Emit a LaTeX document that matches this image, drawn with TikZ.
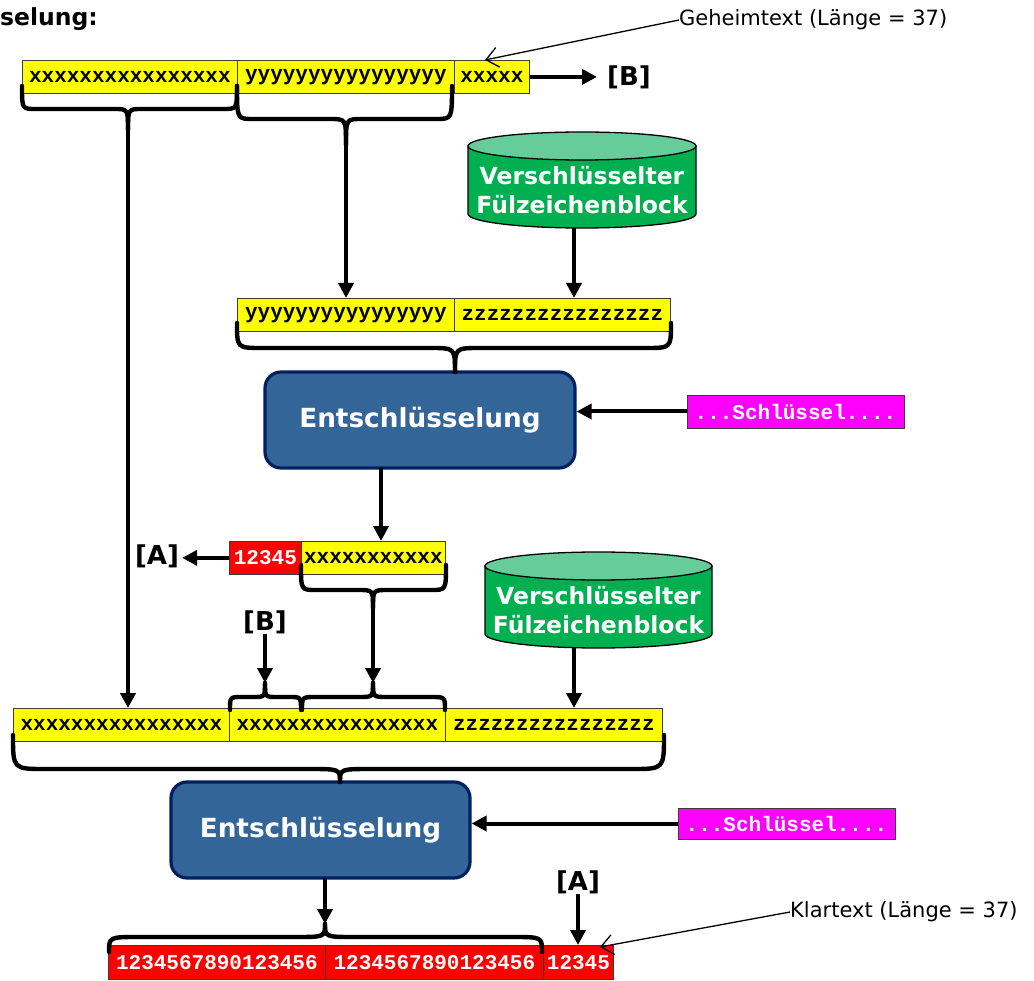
\documentclass[tikz,border=0pt]{standalone}
\usepackage{fontspec}
\setmainfont{DejaVu Sans}
\newfontfamily\monofnt{Liberation Mono}
\usetikzlibrary{arrows.meta}
\definecolor{entfill}{RGB}{52,101,153}
\definecolor{entline}{RGB}{0,32,96}
\definecolor{cylgreen}{RGB}{0,176,80}
\definecolor{cyllight}{RGB}{102,204,153}
\definecolor{cellline}{RGB}{60,60,60}
\definecolor{keymag}{RGB}{255,0,255}
\definecolor{cellyel}{RGB}{255,255,0}
\definecolor{cellred}{RGB}{255,0,0}
\newcommand{\bracepath}[7]{%
  \draw[brace] (#1,#4) .. controls (#1,#5) .. ({#1+#7},#5) -- ({#3-#7},#5) .. controls (#3,#5) .. (#3,#6);
  \draw[brace] (#2,#4) .. controls (#2,#5) .. ({#2-#7},#5) -- ({#3+#7},#5) .. controls (#3,#5) .. (#3,#6);}
\newcommand{\cylshape}[5]{%
  \filldraw[cylbody] ({#1-#2},#3) -- ({#1-#2},#4) .. controls ({#1-#2},{#4+0.5523*#5}) and ({#1-0.5523*#2},{#4+#5}) .. (#1,{#4+#5}) .. controls ({#1+0.5523*#2},{#4+#5}) and ({#1+#2},{#4+0.5523*#5}) .. ({#1+#2},#4) -- ({#1+#2},#3) -- cycle;
  \filldraw[cyltop] (#1,#3) ellipse [x radius=#2, y radius=#5];}
\begin{document}
\begin{tikzpicture}[x=1pt,y=-1pt,
  cell/.style={draw=cellline, line width=0.8, minimum height=33, inner sep=0, anchor=north west,
    font=\monofnt\bfseries\fontsize{21}{21}\selectfont},
  yel/.style={cell, fill=cellyel},
  redc/.style={cell, fill=cellred, text=white},
  keyc/.style={draw=cellline, line width=0.8, fill=keymag, text=white, minimum width=217, minimum height=33, inner sep=0,
    font=\monofnt\bfseries\fontsize{21}{21}\selectfont},
  ent/.style={draw=entline, line width=3.2, fill=entfill, rounded corners=16, text=white,
    font=\bfseries\fontsize{26.3}{26.3}\selectfont, inner sep=0},
  cylbody/.style={fill=cylgreen, draw=black, line width=1.3},
  cyltop/.style={fill=cyllight, draw=black, line width=1.3},
  cyltext/.style={text=white, align=center, font=\bfseries\fontsize{23.5}{29}\selectfont, inner sep=0},
  lbl/.style={font=\bfseries\fontsize{26}{26}\selectfont, inner sep=0},
  note/.style={font=\fontsize{21}{21}\selectfont, inner sep=0, anchor=west},
  brace/.style={line width=4.4, line cap=round, line join=round},
  conn/.style={line width=4, -{Triangle[length=15pt,width=15pt]}},
  thin/.style={line width=1.3, -{Straight Barb[length=12pt,width=20pt]}}
]
\useasboundingbox (0,0) rectangle (1034,981);

% title
\node[font=\bfseries\fontsize{23.5}{23.5}\selectfont, inner sep=0, anchor=base west] (title) at (0,26) {selung:};

% row 1
\node[yel, minimum width=215] (r1a) at (22,60) {xxxxxxxxxxxxxxxx};
\node[yel, minimum width=217] (r1b) at (237,60) {yyyyyyyyyyyyyyyy};
\node[yel, minimum width=75] (r1c) at (454,60) {xxxxx};
\node[lbl] (B1) at (629,77) {[B]};

% cylinder 1
\cylshape{582}{114}{146}{214}{14}
\node[cyltext] (cyl1) at (582,190) {Verschlüsselter\\Fülzeichenblock};
\coordinate (c1b) at (574,228);

% row 2
\node[yel, minimum width=217] (r2a) at (237,298) {yyyyyyyyyyyyyyyy};
\node[yel, minimum width=216] (r2b) at (454,298) {zzzzzzzzzzzzzzzz};

% decryption 1
\node[ent, minimum width=310, minimum height=96] (ent1) at (420,420) {Entschlüsselung};
\node[keyc] (key1) at (795.5,411.5) {...Schlüssel....};
\coordinate (e1b) at (381,468);

% row 3
\node[redc, minimum width=72] (r3a) at (229,541) {12345};
\node[yel, minimum width=144] (r3b) at (301,541) {xxxxxxxxxxx};
\node[lbl] (A1) at (157,556) {[A]};
\node[lbl] (B2) at (265,622) {[B]};

% cylinder 2
\cylshape{598.5}{113.5}{566}{634}{14}
\node[cyltext] (cyl2) at (598.5,610) {Verschlüsselter\\Fülzeichenblock};
\coordinate (c2b) at (574,648);

% row 4
\node[yel, minimum width=216] (r4a) at (13,708) {xxxxxxxxxxxxxxxx};
\node[yel, minimum width=216] (r4b) at (229,708) {xxxxxxxxxxxxxxxx};
\node[yel, minimum width=217] (r4c) at (445,708) {zzzzzzzzzzzzzzzz};

% decryption 2
\node[ent, minimum width=299, minimum height=96] (ent2) at (320.5,830) {Entschlüsselung};
\node[keyc, minimum height=31] (key2) at (786.5,823.5) {...Schlüssel....};
\coordinate (e2b) at (325,878);

% row 5
\node[redc, minimum width=217, minimum height=34] (r5a) at (108,945) {1234567890123456};
\node[redc, minimum width=218, minimum height=34] (r5b) at (325,945) {1234567890123456};
\node[redc, minimum width=70, minimum height=34] (r5c) at (543,945) {12345};
\node[lbl] (A2) at (578,882) {[A]};

% notes
\node[note] (geh) at (679,20) {Geheimtext (Länge = 37)};
\node[note] (kla) at (790,912) {Klartext (Länge = 37)};
\coordinate (gehT) at (485,60);
\coordinate (klaT) at (600,947);

% braces
\bracepath{22}{237}{128}{86}{109}{130}{14}
\coordinate (bA) at (128,130);
\bracepath{237}{452}{346}{86}{119}{145}{16}
\coordinate (bB) at (346,145);
\bracepath{237}{671}{455}{323}{348}{372}{25}
\bracepath{301}{446}{373}{565}{590}{608}{15}
\coordinate (bC) at (373,608);
\bracepath{230}{301}{265}{710}{697}{683}{12}
\coordinate (tB) at (265,683);
\bracepath{302}{445}{373}{710}{697}{683}{14}
\coordinate (tC) at (373,683);
\bracepath{13}{664}{340}{735}{769}{782}{32}
\bracepath{109}{542}{325}{952}{937}{924}{30}
\coordinate (bE) at (325,924);

% connectors
\draw[conn, shorten >=10pt] (r1c.east) -- (r1c.east -| B1.west);
\draw[conn] (bA) -- (bA |- r4a.north);
\draw[conn] (bB) -- (bB |- r2a.north);
\draw[conn] (c1b) -- (c1b |- r2b.north);
\draw[conn] (key1.west) -- (key1.west -| ent1.east);
\draw[conn] (e1b) -- (e1b |- r3b.north);
\draw[conn, shorten >=3pt] (r3a.west) -- (r3a.west -| A1.east);
\draw[conn] (bC) -- (tC);
\draw[conn] (B2.south) -- (tB);
\draw[conn] (c2b) -- (c2b |- r4c.north);
\draw[conn] (key2.west) -- (key2.west -| ent2.east);
\draw[conn] (e2b) -- (bE);
\draw[conn] (A2.south) -- (A2.south |- r5c.north);
\draw[thin] (geh.west) -- (gehT);
\draw[thin] (kla.west) -- (klaT);
\end{tikzpicture}
\end{document}
